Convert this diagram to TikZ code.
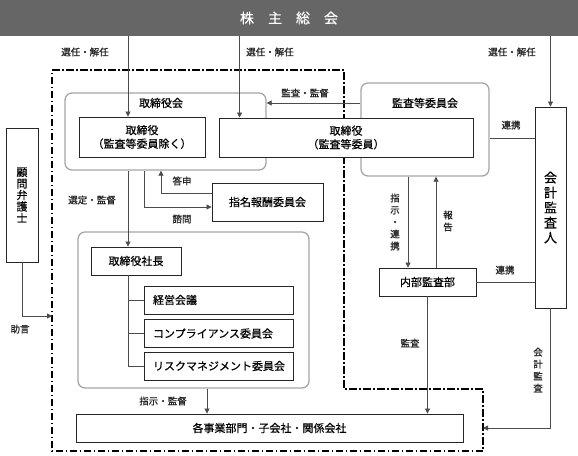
\documentclass[tikz,border=0pt]{standalone}
\usepackage{fontspec}
\setmainfont{Noto Sans CJK JP}[FakeBold=0.4]
\newfontfamily\lblfont{Noto Sans CJK JP}[FakeBold=1.2]
\usetikzlibrary{arrows.meta}

\begin{document}
\begin{tikzpicture}[x=1pt,y=-1pt,
        box/.style={draw=black!85,line width=0.9pt,fill=white,inner sep=0pt,font=\fontsize{11}{13.5}\selectfont,align=center},
        subbox/.style={box,minimum height=28pt,text width=131pt,inner xsep=9pt,align=left},
        group/.style={draw=black!35,line width=1.3pt,rounded corners=7pt,fill=white,inner sep=0pt},
        lbl/.style={font=\lblfont\fontsize{9.5}{11.5}\selectfont,text=black!85,inner sep=0pt,align=center},
        vlbl/.style={lbl,font=\lblfont\fontsize{9.5}{12}\selectfont},
        conn/.style={draw=black!70,line width=0.8pt},
        arr/.style={conn,-{Triangle[length=5pt,width=5pt]}},
        frame/.style={line width=1.2pt,dash pattern=on 7.5pt off 2.5pt on 1.5pt off 2.5pt}]
    \useasboundingbox (0,0) rectangle (578,455);

    % shareholders
    \node (gm) [fill=black!60,text=white,minimum width=578pt,minimum height=36pt,inner sep=0pt,
        font=\fontsize{14}{16}\selectfont] at (289,18) {株　主　総　会};

    % dash-dot area
    \draw[frame] (52,70) -- (344,70) -- (344,389) -- (483,389) -- (483,451) -- (52,451) -- cycle;

    % groups
    \node (bod)  [group,minimum width=201pt,minimum height=77pt] at (165.5,131.5) {};
    \node (ac)   [group,minimum width=128pt,minimum height=93pt] at (425,129.5) {};
    \node (exec) [group,minimum width=231pt,minimum height=156pt] at (193.5,310) {};
    \node (bodlabel) [font=\fontsize{11}{13}\selectfont] at (161,103) {取締役会};
    \node (aclabel)  [font=\fontsize{11}{13}\selectfont] at (425,103) {監査等委員会};

    % boxes
    \node (dir1) [box,minimum width=126pt,minimum height=40pt] at (142,137) {取締役\\（監査等委員除く）};
    \node (dir2) [box,minimum width=254pt,minimum height=39pt] at (346,137.5) {取締役\\（監査等委員）};
    \node (cpa)  [box,minimum width=31pt,minimum height=201pt,font=\fontsize{13}{15}\selectfont] at (550.5,207.5) {会\\計\\監\\査\\人};
    \node (lawyer) [box,minimum width=32pt,minimum height=134pt,font=\fontsize{11}{11.5}\selectfont] at (22,195) {顧\\問\\弁\\護\\士};
    \node (nrc)  [box,minimum width=111pt,minimum height=38pt] at (267.5,202) {指名報酬委員会};
    \node (pres) [box,minimum width=90pt,minimum height=28pt] at (136,261) {取締役社長};
    \node (mgmt) [subbox] at (218.5,300) {経営会議};
    \node (comp) [subbox] at (218.5,333.5) {コンプライアンス委員会};
    \node (risk) [subbox] at (218.5,366) {リスクマネジメント委員会};
    \node (ops)  [box,minimum width=387pt,minimum height=28pt] at (269.5,428) {各事業部門・子会社・関係会社};
    \node (ia)   [box,minimum width=97pt,minimum height=28pt] at (427.5,282) {内部監査部};

    \coordinate (advice) at (52,316);
    \coordinate (audit) at (483,428);

    % connectors
    \draw[arr] ([xshift=-14pt]dir1.north |- gm.south) -- ([xshift=-14pt]dir1.north);
    \draw[arr] ([xshift=21pt]dir2.north west |- gm.south) -- ([xshift=21pt]dir2.north west);
    \draw[arr] (cpa.north |- gm.south) -- (cpa.north);
    \draw[arr] (ac.west |- aclabel) -- (bod.east |- aclabel);
    \draw[conn] ([yshift=-8.5pt]ac.east) -- ([yshift=-8.5pt]ac.east -| cpa.west);
    \draw[arr] (lawyer.south) |- (advice);
    \draw[arr] ([yshift=9pt]nrc.west) -| ([xshift=-4.5pt]bod.south);
    \draw[arr] ([xshift=-21.5pt]bod.south) |- ([yshift=-5pt]nrc.west);
    \draw[arr] ([xshift=-8pt]pres.north |- bod.south) -- ([xshift=-8pt]pres.north);
    \draw[conn] ([xshift=-8pt]pres.south) |- (risk.west);
    \draw[conn] ([xshift=-8pt]pres.south |- mgmt.west) -- (mgmt.west);
    \draw[conn] ([xshift=-8pt]pres.south |- comp.west) -- (comp.west);
    \draw[arr] ([xshift=13.5pt]exec.south) -- ([xshift=13.5pt]exec.south |- ops.north);
    \draw[arr] ([xshift=-19.5pt]ia.north |- ac.south) -- ([xshift=-19.5pt]ia.north);
    \draw[arr] ([xshift=8.5pt]ia.north) -- ([xshift=8.5pt]ia.north |- ac.south);
    \draw[conn] (ia.east) -- (ia.east -| cpa.west);
    \draw[arr] (ia.south) -- (ia.south |- ops.north);
    \draw[arr] (cpa.south) |- (audit);

    % labels
    \node (l1) [lbl] at (85,52) {選任・解任};
    \node (l2) [lbl] at (270,52) {選任・解任};
    \node (l3) [lbl] at (512,52) {選任・解任};
    \node (l4) [lbl] at (305,93) {監査・監督};
    \node (l5) [lbl] at (511,125) {連携};
    \node (l6) [lbl] at (182,181) {答申};
    \node (l7) [lbl] at (182,219) {諮問};
    \node (l8) [lbl] at (92,200) {選定・監督};
    \node (l9) [lbl] at (20,329) {助言};
    \node (l10) [lbl] at (163,401) {指示・監督};
    \node (l11) [vlbl] at (395,222) {指\\示\\・\\連\\携};
    \node (l12) [vlbl] at (448,221) {報\\告};
    \node (l13) [lbl] at (505,270) {連携};
    \node (l14) [lbl] at (410,343) {監査};
    \node (l15) [vlbl] at (538,370) {会\\計\\監\\査};
\end{tikzpicture}
\end{document}
